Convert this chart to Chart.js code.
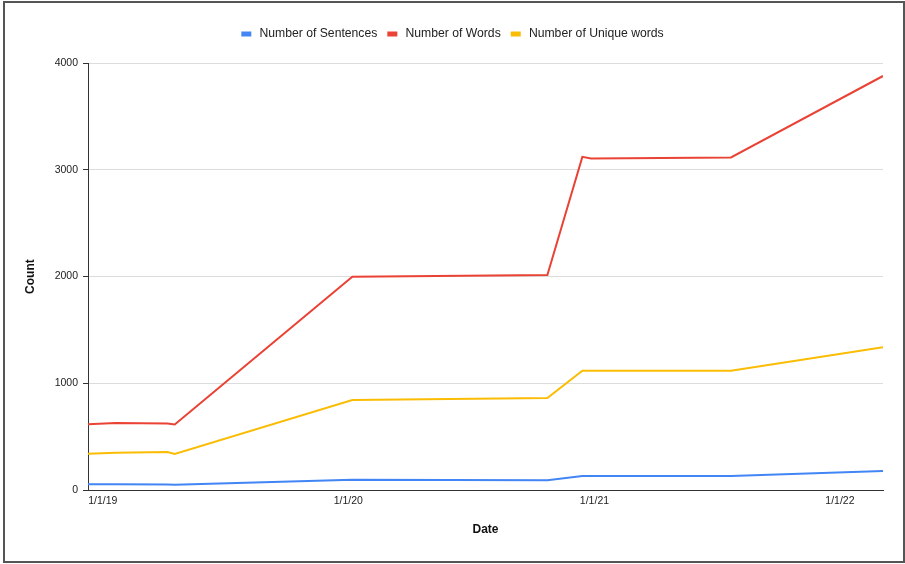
<!DOCTYPE html>
<html>
<head>
<meta charset="utf-8">
<script src="https://cdn.jsdelivr.net/npm/chart.js@4"></script>
<style>
  body { margin: 0; background: #fff; }
  #wrap { position: relative; width: 905px; height: 564px; }
  #frame { position: absolute; left: 3px; top: 1px; width: 898px; height: 558px; border: 2px solid #555; pointer-events: none; }
</style>
</head>
<body>
<div id="wrap">
  <canvas id="chart" width="905" height="564"></canvas>
  <div id="frame"></div>
</div>
<script>
// dates of each reading
dates = ['2018-12-10', '2019-01-20', '2019-04-07', '2019-04-18', '2020-01-07',
         '2020-10-23', '2020-12-14', '2020-12-27', '2021-07-23', '2022-03-06'];
sentences = [55, 55, 52, 50, 95, 92, 131, 131, 131, 178];
words = [616, 628, 624, 614, 1998, 2014, 3122, 3107, 3117, 3880];
uniqueWords = [340, 348, 356, 337, 843, 862, 1118, 1117, 1118, 1337];
xTickDates = ['2019-01-01', '2020-01-01', '2021-01-01', '2022-01-01'];
yTicks = [0, 1000, 2000, 3000, 4000];

function dayNum(s) {
    p = s.split('-');
    return Date.UTC(+p[0], +p[1] - 1, +p[2]) / 86400000;
}
function dayLabel(v) {
    d = new Date(v * 86400000);
    return (d.getUTCMonth() + 1) + '/' + d.getUTCDate() + '/' + String(d.getUTCFullYear()).slice(2);
}

xs = dates.map(dayNum);
function series(vals) {
    return vals.map((v, i) => ({ x: xs[i], y: v }));
}

font = "'Liberation Sans', Arial, sans-serif";

const legendGap = {
    id: 'legendGap',
    beforeInit(chart) {
        const fit = chart.legend.fit;
        chart.legend.fit = function () {
            fit.bind(chart.legend)();
            this.height += 13;
        };
    }
};

chart = new Chart(document.getElementById('chart'), {
    type: 'line',
    data: {
        datasets: [{
            label: 'Number of Sentences',
            data: series(sentences),
            borderColor: '#4285F4',
            backgroundColor: '#4285F4'
        }, {
            label: 'Number of Words',
            data: series(words),
            borderColor: '#EA4335',
            backgroundColor: '#EA4335'
        }, {
            label: 'Number of Unique words',
            data: series(uniqueWords),
            borderColor: '#FBBC04',
            backgroundColor: '#FBBC04'
        }]
    },
    options: {
        responsive: false,
        animation: false,
        elements: {
            line: { borderWidth: 2, tension: 0 },
            point: { radius: 0 }
        },
        layout: { padding: { top: 18, right: 22, bottom: 0, left: 22 } },
        plugins: {
            legend: {
                position: 'top',
                labels: {
                    boxWidth: 10,
                    boxHeight: 5,
                    padding: 10,
                    color: '#222',
                    font: { family: font, size: 12.2 },
                    generateLabels: c => {
                        items = Chart.defaults.plugins.legend.labels.generateLabels(c);
                        items.forEach(it => { it.lineWidth = 0; it.text = '\u200A\u200A' + it.text; });
                        return items;
                    }
                }
            },
            tooltip: { enabled: false }
        },
        scales: {
            x: {
                type: 'linear',
                min: xs[0],
                max: xs[xs.length - 1],
                afterBuildTicks: s => { s.ticks = xTickDates.map(d => ({ value: dayNum(d) })); },
                afterFit: s => { s.height = 74; },
                grid: { display: false, drawTicks: false },
                border: { color: '#333', width: 1 },
                ticks: {
                    autoSkip: false,
                    maxRotation: 0,
                    padding: 5,
                    color: '#222',
                    font: { family: font, size: 10.5 },
                    callback: v => dayLabel(v)
                },
                title: {
                    display: true,
                    text: 'Date',
                    color: '#111',
                    font: { family: font, size: 12, weight: 'bold' },
                    padding: { top: 0, bottom: 27 }
                }
            },
            y: {
                min: 0,
                max: 4000,
                afterBuildTicks: s => { s.ticks = yTicks.map(v => ({ value: v })); },
                afterFit: s => { s.width = 66; },
                grid: { color: '#dcdcdc', tickColor: '#333', tickLength: 5 },
                border: { color: '#333', width: 1 },
                ticks: {
                    padding: 5,
                    color: '#222',
                    font: { family: font, size: 10.5 },
                    callback: v => String(v)
                },
                title: {
                    display: true,
                    text: 'Count',
                    color: '#111',
                    font: { family: font, size: 12, weight: 'bold' },
                    padding: { top: 1, bottom: 0 }
                }
            }
        }
    },
    plugins: [legendGap]
});
</script>
</body>
</html>
